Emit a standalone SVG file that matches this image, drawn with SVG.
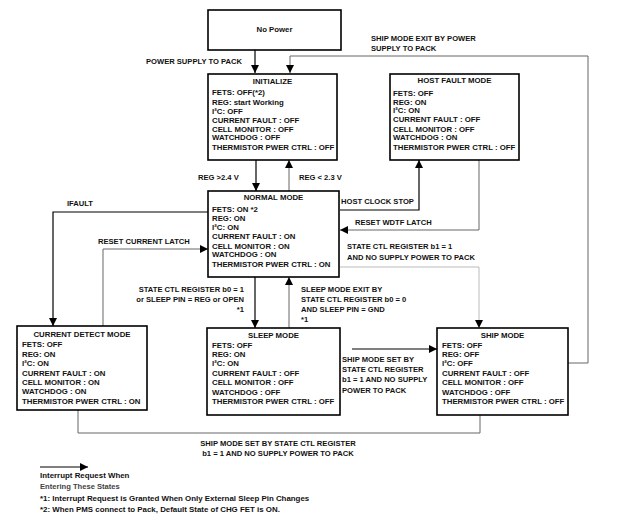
<svg xmlns="http://www.w3.org/2000/svg" width="620" height="525" viewBox="0 0 620 525">
<defs>
<style>
text{font-family:"Liberation Sans",Arial,sans-serif;font-weight:bold;font-size:7.8px;fill:#111}
.box{fill:#fff;stroke:#000;stroke-width:1.6}
.t{text-anchor:middle}
.c{fill:none;stroke:#000;stroke-width:1.2}
.g{fill:none;stroke:#666;stroke-width:1}
.lg{fill:none;stroke:#bbb;stroke-width:1}
.lbl{font-size:7.6px}
.leg{font-size:7.9px}
.fn{font-size:7.9px}
.sub{font-size:7.6px;fill:#444}
</style>
<marker id="ah" viewBox="0 0 8 8" refX="8" refY="4" markerWidth="8" markerHeight="8" markerUnits="userSpaceOnUse" orient="auto">
<path d="M0,0 L8,4 L0,8 z" fill="#000"/>
</marker>
</defs>
<rect width="620" height="525" fill="#fff"/>

<g id="connectors">
<path class="c" d="M255,50 V73" marker-end="url(#ah)"/>
<path class="g" d="M568,363 H588 V56 H290 V73" marker-end="url(#ah)"/>
<path class="c" d="M256,160 V191" marker-end="url(#ah)"/>
<path class="g" d="M289,191 V160" marker-end="url(#ah)"/>
<path class="c" d="M340,210 H419 V160" marker-end="url(#ah)"/>
<path class="g" d="M479,160 V230 H340" marker-end="url(#ah)"/>
<path class="lg" d="M340,267 H479 V328" marker-end="url(#ah)"/>
<path class="c" d="M208,212 H53 V326" marker-end="url(#ah)"/>
<path class="g" d="M103,326 V249 H208" marker-end="url(#ah)"/>
<path class="c" d="M255,277 V328" marker-end="url(#ah)"/>
<path class="g" d="M289,328 V277" marker-end="url(#ah)"/>
<path class="c" d="M352,349 H437" marker-end="url(#ah)"/>
<path class="g" d="M78,410 V433 H480 V415"/>
<path class="c" d="M40,467 H88" marker-end="url(#ah)"/>
</g>

<g id="labels">
<text class="lbl" x="146" y="64">POWER SUPPLY TO PACK</text>
<text class="lbl" x="371" y="41">SHIP MODE EXIT BY POWER</text>
<text class="lbl" x="371" y="51">SUPPLY TO PACK</text>
<text class="lbl" x="198" y="180">REG &gt;2.4 V</text>
<text class="lbl" x="299" y="180">REG &lt; 2.3 V</text>
<text class="lbl" x="341" y="204">HOST CLOCK STOP</text>
<text class="lbl" x="355" y="225">RESET WDTF LATCH</text>
<text class="lbl" x="347" y="249">STATE CTL REGISTER b1 = 1</text>
<text class="lbl" x="347" y="260">AND NO SUPPLY POWER TO PACK</text>
<text class="lbl" x="67" y="206">IFAULT</text>
<text class="lbl" x="98" y="244">RESET CURRENT LATCH</text>
<text class="lbl" x="244" y="292" text-anchor="end">STATE CTL REGISTER b0 = 1</text>
<text class="lbl" x="244" y="302" text-anchor="end">or SLEEP PIN = REG or OPEN</text>
<text class="lbl" x="244" y="312" text-anchor="end">*1</text>
<text class="lbl" x="301" y="292">SLEEP MODE EXIT BY</text>
<text class="lbl" x="301" y="302">STATE CTL REGISTER b0 = 0</text>
<text class="lbl" x="301" y="312">AND SLEEP PIN = GND</text>
<text class="lbl" x="301" y="322">*1</text>
<text class="lbl" x="342" y="362">SHIP MODE SET BY</text>
<text class="lbl" x="342" y="372">STATE CTL REGISTER</text>
<text class="lbl" x="342" y="382">b1 = 1 AND NO SUPPLY</text>
<text class="lbl" x="342" y="393">POWER TO PACK</text>
<text class="lbl t" x="278" y="446">SHIP MODE SET BY STATE CTL REGISTER</text>
<text class="lbl t" x="278" y="456">b1 = 1 AND NO SUPPLY POWER TO PACK</text>
</g>

<g id="legend">
<text class="leg" x="40" y="478">Interrupt Request When</text>
<text class="sub" x="40" y="489">Entering These States</text>
<text class="fn" x="40" y="501">*1: Interrupt Request is Granted When Only External Sleep Pin Changes</text>
<text class="fn" x="40" y="512">*2: When PMS connect to Pack, Default State of CHG FET is ON.</text>
</g>

<g id="no-power">
<rect class="box" x="208" y="10" width="133" height="40"/>
<text class="t" x="274.5" y="32">No Power</text>
</g>

<g id="initialize">
<rect class="box" x="208" y="74" width="129" height="86"/>
<text class="t" x="272.5" y="84">INITIALIZE</text>
<text x="212" y="95">FETS: OFF(*2)</text>
<text x="212" y="104.5">REG:  start Working</text>
<text x="212" y="113.5">I²C: OFF</text>
<text x="212" y="122.5">CURRENT FAULT : OFF</text>
<text x="212" y="131.5">CELL MONITOR : OFF</text>
<text x="212" y="140">WATCHDOG : OFF</text>
<text x="212" y="149.5">THERMISTOR PWER CTRL : OFF</text>
</g>

<g id="host-fault">
<rect class="box" x="390" y="74" width="129" height="86"/>
<text class="t" x="454.5" y="83">HOST FAULT MODE</text>
<text x="393" y="95.5">FETS: OFF</text>
<text x="393" y="104.5">REG:  ON</text>
<text x="393" y="113">I²C: ON</text>
<text x="393" y="122">CURRENT FAULT : OFF</text>
<text x="393" y="131.5">CELL MONITOR : OFF</text>
<text x="393" y="140">WATCHDOG : ON</text>
<text x="393" y="149.5">THERMISTOR PWER CTRL : OFF</text>
</g>

<g id="normal">
<rect class="box" x="208" y="191" width="131" height="86"/>
<text class="t" x="273.5" y="200">NORMAL MODE</text>
<text x="212" y="212">FETS: ON *2</text>
<text x="212" y="221">REG:  ON</text>
<text x="212" y="230">I²C: ON</text>
<text x="212" y="239">CURRENT FAULT : ON</text>
<text x="212" y="248.5">CELL MONITOR : ON</text>
<text x="212" y="257">WATCHDOG : ON</text>
<text x="212" y="266.5">THERMISTOR PWER CTRL : ON</text>
</g>

<g id="current-detect">
<rect class="box" x="17" y="326" width="130" height="84"/>
<text class="t" x="82" y="337">CURRENT DETECT MODE</text>
<text x="22" y="347">FETS: OFF</text>
<text x="22" y="357">REG:  ON</text>
<text x="22" y="366">I²C: ON</text>
<text x="22" y="376">CURRENT FAULT : ON</text>
<text x="22" y="385">CELL MONITOR : ON</text>
<text x="22" y="394">WATCHDOG : ON</text>
<text x="22" y="404">THERMISTOR PWER CTRL : ON</text>
</g>

<g id="sleep">
<rect class="box" x="207" y="328" width="133" height="87"/>
<text class="t" x="273.5" y="338">SLEEP MODE</text>
<text x="212" y="348">FETS: OFF</text>
<text x="212" y="357">REG:  ON</text>
<text x="212" y="366">I²C: ON</text>
<text x="212" y="376">CURRENT FAULT : OFF</text>
<text x="212" y="385">CELL MONITOR : OFF</text>
<text x="212" y="395">WATCHDOG : OFF</text>
<text x="212" y="404">THERMISTOR PWER CTRL : OFF</text>
</g>

<g id="ship">
<rect class="box" x="437" y="328" width="131" height="87"/>
<text class="t" x="502.5" y="338">SHIP MODE</text>
<text x="442" y="348">FETS: OFF</text>
<text x="442" y="357">REG:  OFF</text>
<text x="442" y="366">I²C: OFF</text>
<text x="442" y="376">CURRENT FAULT : OFF</text>
<text x="442" y="385">CELL MONITOR : OFF</text>
<text x="442" y="395">WATCHDOG : OFF</text>
<text x="442" y="404">THERMISTOR PWER CTRL : OFF</text>
</g>
</svg>
